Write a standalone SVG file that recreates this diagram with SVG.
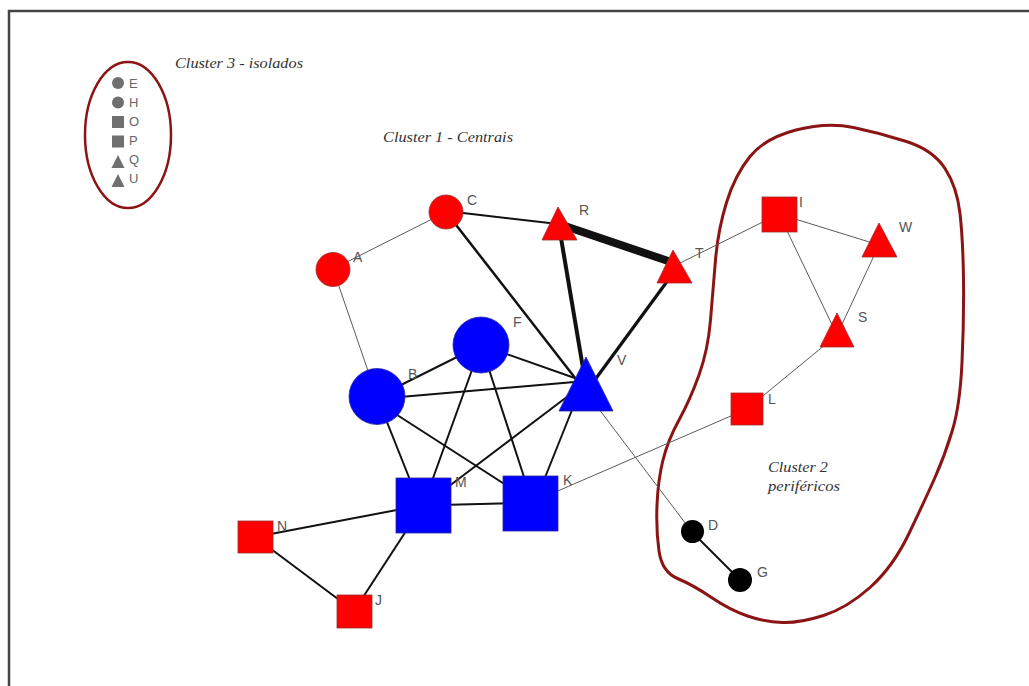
<svg xmlns="http://www.w3.org/2000/svg" width="1029" height="686" viewBox="0 0 1029 686">
<style>
.thin{stroke:#5a5a5a;stroke-width:1;fill:none}
.med{stroke:#111;stroke-width:2;fill:none}
.red{fill:#ff0000;stroke:#9a3030;stroke-width:0.8}
.blue{fill:#0000ff;stroke:#2a2a9a;stroke-width:0.8}
.blk{fill:#000}
.gray{fill:#6f6f6f}
.lbl{font-family:"Liberation Sans",Arial,sans-serif;font-size:14px;fill:#555}
.leg{font-family:"Liberation Sans",Arial,sans-serif;font-size:13px;fill:#666}
.cl{font-family:"Liberation Serif","Times New Roman",serif;font-style:italic;font-size:14px;fill:#333}
.hull{fill:none;stroke:#8b1414;stroke-width:3}
</style>
<rect x="0" y="0" width="1029" height="686" fill="#fff"/>
<rect x="9" y="11" width="1040" height="700" fill="none" stroke="#444" stroke-width="2.5"/>
<g id="cluster3">
<ellipse cx="128" cy="135" rx="43" ry="73" class="hull" style="stroke-width:2.5"/>
<text x="175" y="68" class="cl" textLength="128" lengthAdjust="spacingAndGlyphs">Cluster 3 - isolados</text>
</g>
<g id="cluster1">
<text x="383" y="142" class="cl" textLength="130" lengthAdjust="spacingAndGlyphs">Cluster 1 - Centrais</text>
</g>
<g id="cluster2">
<path class="hull" d="M 853.5,127.5 Q 880,133 906.5,141.5 Q 933,150 945,168.5 Q 957,187 960,213.5 Q 963,240 963.5,280 Q 964,320 962,362.5 Q 960,405 952.5,430 Q 945,455 935,477.5 Q 925,500 909,533.5 Q 893,567 870,587.5 Q 847,608 823.5,615.5 Q 800,623 782.5,622.5 Q 765,622 747.5,616 Q 730,610 711.5,597.5 Q 693,585 677.5,578.5 Q 662,572 659,551 Q 656,530 657,505 Q 658,480 663,460 Q 668,440 679,420 Q 690,400 699,375 Q 708,350 710.5,320 Q 713,290 715.5,260 Q 718,230 726.5,202.5 Q 735,175 750,156.5 Q 765,138 796,130 Q 827,122 853.5,127.5 Z"/>
<text x="768" y="472" class="cl" textLength="60" lengthAdjust="spacingAndGlyphs">Cluster 2</text>
<text x="768" y="491" class="cl" textLength="72" lengthAdjust="spacingAndGlyphs">periféricos</text>
</g>
<g id="edges">
<line class="thin" x1="333" y1="269" x2="446" y2="212"/>
<line class="thin" x1="333" y1="269" x2="377" y2="397"/>
<line class="med" x1="446" y1="211" x2="558" y2="224"/>
<line class="med" x1="446" y1="212" x2="586" y2="392" style="stroke-width:2.5"/>
<line class="med" x1="559" y1="224" x2="674" y2="263" style="stroke-width:8"/>
<line class="med" x1="560" y1="232" x2="585" y2="380" style="stroke-width:4"/>
<line class="med" x1="674" y1="272" x2="586" y2="392" style="stroke-width:3.2"/>
<line class="thin" x1="674" y1="266" x2="779" y2="214"/>
<line class="thin" x1="779" y1="214" x2="879" y2="245"/>
<line class="thin" x1="779" y1="214" x2="837" y2="335"/>
<line class="thin" x1="879" y1="245" x2="837" y2="335"/>
<line class="thin" x1="837" y1="335" x2="747" y2="409"/>
<line class="thin" x1="747" y1="409" x2="530" y2="503"/>
<line class="thin" x1="586" y1="392" x2="692" y2="532"/>
<line class="med" x1="692" y1="532" x2="740" y2="580"/>
<line class="med" x1="377" y1="397" x2="481" y2="345"/>
<line class="med" x1="377" y1="399" x2="586" y2="381"/>
<line class="med" x1="481" y1="345" x2="586" y2="382"/>
<line class="med" x1="377" y1="397" x2="418" y2="500"/>
<line class="med" x1="377" y1="402" x2="520" y2="494"/>
<line class="med" x1="481" y1="345" x2="428" y2="492"/>
<line class="med" x1="481" y1="345" x2="525" y2="480"/>
<line class="med" x1="580" y1="387" x2="440" y2="493"/>
<line class="med" x1="578" y1="395" x2="540" y2="490"/>
<line class="med" x1="440" y1="505" x2="520" y2="503"/>
<line class="med" x1="255" y1="537" x2="423" y2="505"/>
<line class="med" x1="423" y1="505" x2="354" y2="611"/>
<line class="med" x1="255" y1="537" x2="354" y2="611"/>
</g>
<g id="node-C"><circle class="red" cx="446" cy="212" r="17"/><text class="lbl" x="467" y="205">C</text></g>
<g id="node-A"><circle class="red" cx="333" cy="269.5" r="17"/><text class="lbl" x="353" y="262">A</text></g>
<g id="node-R"><polygon class="red" points="558,207 542,240 577,240"/><text class="lbl" x="579" y="215">R</text></g>
<g id="node-T"><polygon class="red" points="673,250 657,283 692,283"/><text class="lbl" x="695" y="258">T</text></g>
<g id="node-F"><circle class="blue" cx="481" cy="345" r="28"/><text class="lbl" x="513" y="327">F</text></g>
<g id="node-B"><circle class="blue" cx="377" cy="396.5" r="28"/><text class="lbl" x="408" y="379">B</text></g>
<g id="node-V"><polygon class="blue" points="586,357 559,411 613,411"/><text class="lbl" x="617" y="365">V</text></g>
<g id="node-M"><rect class="blue" x="396" y="478" width="55" height="55"/><text class="lbl" x="455" y="487">M</text></g>
<g id="node-K"><rect class="blue" x="503" y="476" width="55" height="55"/><text class="lbl" x="563" y="485">K</text></g>
<g id="node-N"><rect class="red" x="238" y="521" width="35" height="32"/><text class="lbl" x="277" y="531">N</text></g>
<g id="node-J"><rect class="red" x="337" y="595" width="35" height="33"/><text class="lbl" x="375" y="605">J</text></g>
<g id="node-I"><rect class="red" x="762" y="197" width="35" height="35"/><text class="lbl" x="799" y="207">I</text></g>
<g id="node-W"><polygon class="red" points="879,223 862,257 897,257"/><text class="lbl" x="899" y="232">W</text></g>
<g id="node-S"><polygon class="red" points="837,313 820,347 854,347"/><text class="lbl" x="858" y="322">S</text></g>
<g id="node-L"><rect class="red" x="731" y="393" width="32" height="32"/><text class="lbl" x="768" y="404">L</text></g>
<g id="node-D"><circle class="blk" cx="692.5" cy="531.5" r="11.5"/><text class="lbl" x="708" y="530">D</text></g>
<g id="node-G"><circle class="blk" cx="740" cy="580" r="12"/><text class="lbl" x="757" y="577">G</text></g>
<g id="node-E"><circle class="gray" cx="118" cy="83" r="6"/><text class="leg" x="129" y="88">E</text></g>
<g id="node-H"><circle class="gray" cx="118" cy="102.5" r="6"/><text class="leg" x="129" y="107">H</text></g>
<g id="node-O"><rect class="gray" x="112" y="116" width="12" height="12"/><text class="leg" x="129" y="126">O</text></g>
<g id="node-P"><rect class="gray" x="112" y="135.5" width="12" height="12"/><text class="leg" x="129" y="145">P</text></g>
<g id="node-Q"><polygon class="gray" points="118,155 111.5,168 124.5,168"/><text class="leg" x="129" y="164">Q</text></g>
<g id="node-U"><polygon class="gray" points="118,174 111.5,187 124.5,187"/><text class="leg" x="129" y="183">U</text></g>
</svg>
